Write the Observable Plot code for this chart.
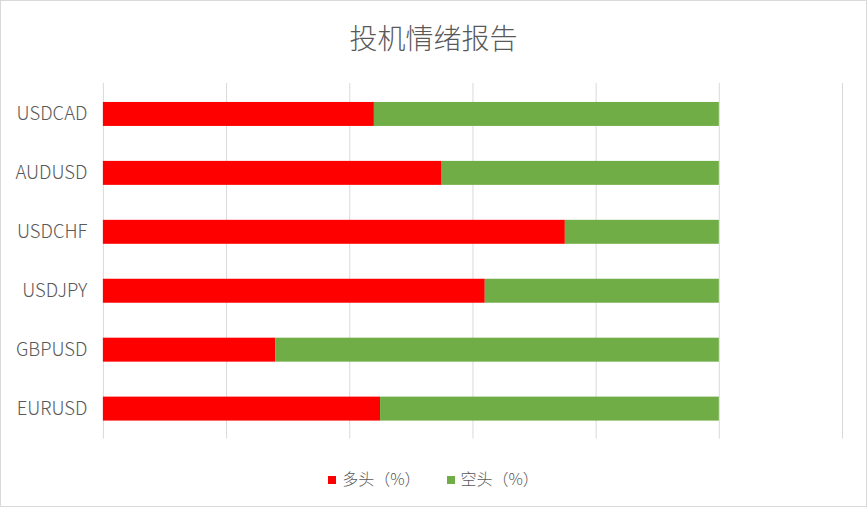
<!DOCTYPE html>
<html><head><meta charset="utf-8">
<script src="https://cdn.jsdelivr.net/npm/d3@7"></script>
<script src="https://cdn.jsdelivr.net/npm/@observablehq/plot@0.6"></script>
<style>
html,body{margin:0;padding:0;background:#fff;}
#wrap{position:relative;width:867px;height:507px;box-sizing:border-box;border:1px solid #d9d9d9;font-family:"Noto Sans CJK SC","Noto Sans",sans-serif;color:#595959;overflow:hidden;}
#title{position:absolute;left:0;top:15px;width:100%;text-align:center;font-size:28px;line-height:42px;color:#595959;font-weight:300;}
#chart{position:absolute;left:-1px;top:68px;}
#legend{position:absolute;left:0;top:465px;width:100%;text-align:center;font-size:16px;line-height:24px;color:#595959;font-weight:300;}
#legend span.sw{display:inline-block;width:8px;height:8px;margin-right:6px;vertical-align:1px;}
#legend span.item{margin:0 13px;}
</style></head>
<body>
<div id="wrap">
<div id="title">投机情绪报告</div>
<div id="chart"></div>
<div id="legend"></div>
</div>
<script>
const pairs = ["USDCAD","AUDUSD","USDCHF","USDJPY","GBPUSD","EURUSD"];
const longPct = [44, 55, 75, 62, 28, 45];
const shortPct = [56, 45, 25, 38, 72, 55];
const seriesNames = ["多头（%）","空头（%）"];
const seriesColors = ["#FF0000","#70AD47"];
const xTicks = [0,20,40,60,80,100,120];

const rows = [];
pairs.forEach((p,i)=>{
  rows.push({pair:p, series:seriesNames[0], value:longPct[i]});
  rows.push({pair:p, series:seriesNames[1], value:shortPct[i]});
});

const chart = Plot.plot({
  width: 867,
  height: 383,
  marginLeft: 103,
  marginRight: 24,
  marginTop: 14,
  marginBottom: 13,
  style: {fontFamily: '"Noto Sans CJK SC","Noto Sans",sans-serif', fontSize: "14px", color: "#595959", background: "transparent"},
  x: {domain: [0,120], axis: null},
  y: {domain: pairs, paddingInner: 0.6, paddingOuter: 0.3, label: null},
  color: {domain: seriesNames, range: seriesColors},
  marks: [
    Plot.ruleX(xTicks, {stroke: "#d9d9d9", strokeWidth: 1}),
    Plot.barX(rows, Plot.stackX({y: "pair", x: "value", fill: "series", order: seriesNames})),
    Plot.axisY({tickSize: 0, tickPadding: 16, fontSize: 18.5, fontWeight: 300, fill: "#595959", label: null})
  ]
});
document.getElementById("chart").appendChild(chart);

const lg = document.getElementById("legend");
seriesNames.forEach((n,i)=>{
  const it = document.createElement("span");
  it.className = "item";
  const sw = document.createElement("span");
  sw.className = "sw";
  sw.style.background = seriesColors[i];
  it.appendChild(sw);
  it.appendChild(document.createTextNode(n));
  lg.appendChild(it);
});
</script>
</body></html>
